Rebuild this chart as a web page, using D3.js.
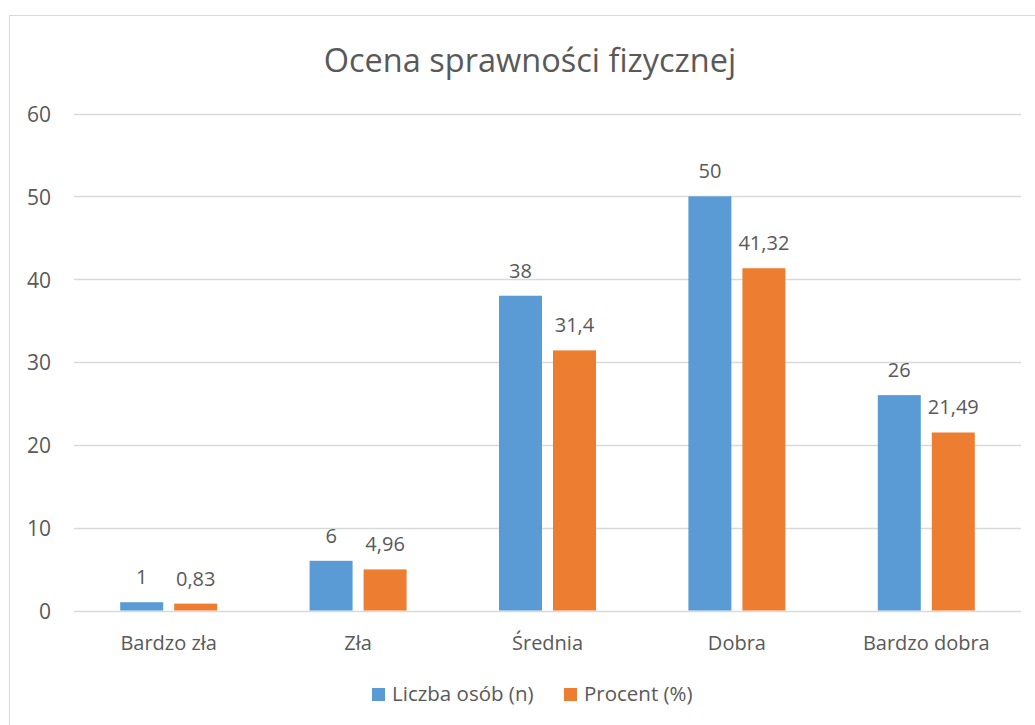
<!DOCTYPE html>
<html><head><meta charset="utf-8">
<script src="https://cdn.jsdelivr.net/npm/d3@7"></script>
<style>body{margin:0;background:#fff}svg{display:block}text{font-family:"Open Sans","Noto Sans",sans-serif;fill:#595959}</style>
</head><body>
<svg id="c" width="1035" height="725"></svg>
<script>
const categories = ["Bardzo zła","Zła","Średnia","Dobra","Bardzo dobra"];
const seriesNames = ["Liczba osób (n)","Procent (%)"];
const liczba = [1,6,38,50,26];
const procent = [0.83,4.96,31.4,41.32,21.49];
const procentLabels = ["0,83","4,96","31,4","41,32","21,49"];
const yTicks = [0,10,20,30,40,50,60];
const colors = ["#5B9BD5","#ED7D31"];

const svg = d3.select("#c");
svg.append("rect").attr("x",9.5).attr("y",15.5).attr("width",1040).attr("height",720)
  .attr("fill","#fff").attr("stroke","#d9d9d9");

const L=74,R=1021,T=113.5,B=610.5;
const x = d3.scaleBand().domain(categories).range([L,R]);
const y = d3.scaleLinear().domain([0,60]).range([B,T]);
const GW = 97;
const inner = d3.scaleBand().domain([0,1]).range([0,GW]).paddingInner(0.204);

svg.append("text").attr("x",530).attr("y",72).attr("text-anchor","middle")
  .style("font-size","32.5px").text("Ocena sprawności fizycznej");

const grid = svg.append("g");
grid.selectAll("line").data(yTicks).join("line")
  .attr("x1",L).attr("x2",R).attr("y1",d=>Math.round(y(d))+0.5).attr("y2",d=>Math.round(y(d))+0.5)
  .attr("stroke","#d9d9d9").attr("stroke-width",1.5);

const yAxis = d3.axisLeft(y).tickValues(yTicks).tickSize(0).tickPadding(0);
svg.append("g").attr("transform",`translate(51,0)`).call(yAxis)
  .call(g=>g.select(".domain").remove())
  .call(g=>g.selectAll("text").style("font-size","21px").attr("fill","#595959").attr("dy","0.38em"));

const xAxis = d3.axisBottom(x).tickSize(0).tickPadding(0);
svg.append("g").attr("transform",`translate(0,${B+39})`).call(xAxis)
  .call(g=>g.select(".domain").remove())
  .call(g=>g.selectAll("text").style("font-size","20px").attr("fill","#595959").attr("y",0).attr("dy","0"));

const data = [liczba, procent];
const labels = [liczba.map(String), procentLabels];
data.forEach((vals,si)=>{
  const g = svg.append("g");
  g.selectAll("rect").data(vals).join("rect")
    .attr("x",(d,i)=>x(categories[i])+(x.bandwidth()-GW)/2+inner(si))
    .attr("width",inner.bandwidth())
    .attr("y",d=>y(d)).attr("height",d=>B-y(d))
    .attr("fill",colors[si]);
  g.selectAll("text").data(vals).join("text")
    .attr("x",(d,i)=>x(categories[i])+(x.bandwidth()-GW)/2+inner(si)+inner.bandwidth()/2)
    .attr("y",d=>y(d)-18).attr("text-anchor","middle").style("font-size","20px")
    .text((d,i)=>labels[si][i]);
});

const leg = svg.append("g");
const legX = [372,564];
seriesNames.forEach((n,i)=>{
  leg.append("rect").attr("x",legX[i]).attr("y",688).attr("width",13).attr("height",13).attr("fill",colors[i]);
  leg.append("text").attr("x",legX[i]+20).attr("y",701).style("font-size","20.5px").text(n);
});
</script>
</body></html>
